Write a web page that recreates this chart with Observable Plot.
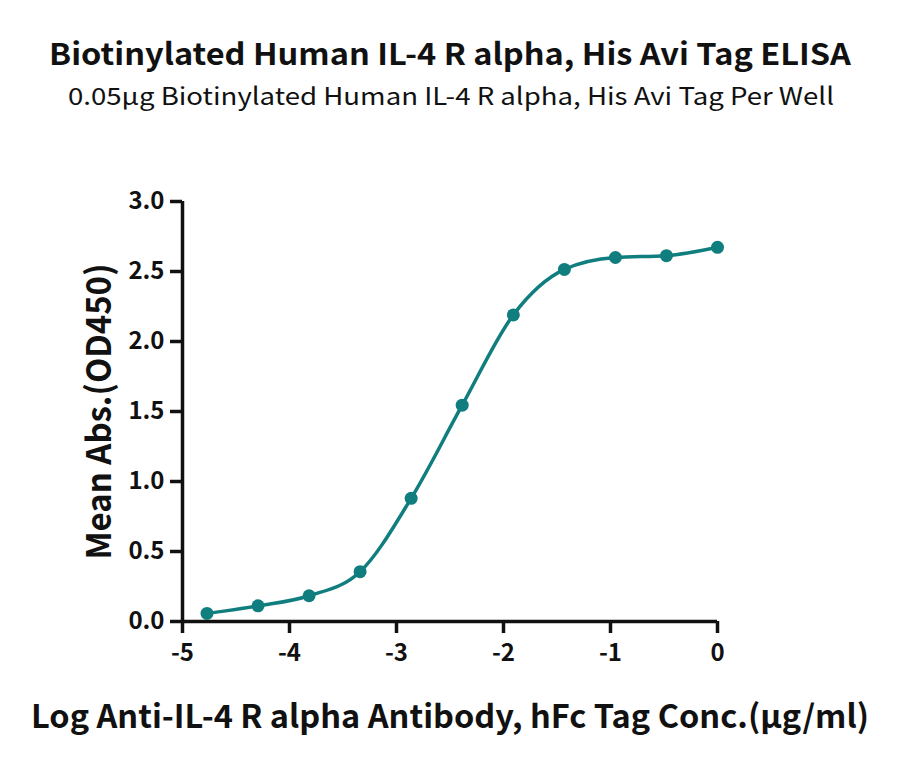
<!DOCTYPE html>
<html>
<head>
<meta charset="utf-8">
<script src="https://cdn.jsdelivr.net/npm/d3@7"></script>
<script src="https://cdn.jsdelivr.net/npm/@observablehq/plot@0.6"></script>
<style>
  body { margin: 0; background: #fff; font-family: "Noto Sans CJK SC", "Noto Sans", sans-serif; }
  #wrap { width: 900px; height: 760px; position: relative; }
  #head { position: absolute; left: 0; top: 0; }
  #chart { position: absolute; left: 0; top: 120px; }
</style>
</head>
<body>
<div id="wrap">
  <div id="head"></div>
  <div id="chart"></div>
</div>
<script>
const title = "Biotinylated Human IL-4 R alpha, His Avi Tag ELISA";
const subtitle = "0.05μg Biotinylated Human IL-4 R alpha, His Avi Tag Per Well";
const logConc = [-4.771, -4.294, -3.817, -3.340, -2.863, -2.386, -1.908, -1.431, -0.954, -0.477, 0];
const meanAbs = [0.058, 0.112, 0.184, 0.356, 0.880, 1.545, 2.190, 2.515, 2.600, 2.613, 2.673];
const xTicks = [-5, -4, -3, -2, -1, 0];
const yTicks = [0, 0.5, 1.0, 1.5, 2.0, 2.5, 3.0];
const xLabel = "Log Anti-IL-4 R alpha Antibody, hFc Tag Conc.(μg/ml)";
const yLabel = "Mean Abs.(OD450)";
const color = "#107d7e";
const font = '"Noto Sans CJK SC", "Noto Sans", sans-serif';

// Title block (above the chart)
const head = d3.select("#head").append("svg")
  .attr("width", 900).attr("height", 120)
  .style("font-family", font);
head.append("text").text(title)
  .attr("x", 450).attr("y", 65).attr("text-anchor", "middle")
  .attr("font-size", 30).attr("font-weight", 700).attr("fill", "#111")
  .attr("textLength", 802).attr("lengthAdjust", "spacingAndGlyphs");
head.append("text").text(subtitle)
  .attr("x", 451).attr("y", 105).attr("text-anchor", "middle")
  .attr("font-size", 24).attr("font-weight", 400).attr("fill", "#111")
  .attr("textLength", 766).attr("lengthAdjust", "spacingAndGlyphs");

const data = logConc.map((x, i) => ({x, y: meanAbs[i]}));

const plot = Plot.plot({
  width: 900,
  height: 640,
  marginTop: 81,
  marginLeft: 182,
  marginRight: 183,
  marginBottom: 139,
  style: {fontFamily: font, color: "#111", background: "#fff"},
  x: {domain: [-5, 0]},
  y: {domain: [0, 3]},
  marks: [
    Plot.axisX({ticks: xTicks, tickSize: 12, strokeWidth: 3.5, tickPadding: 10, fontSize: 24, fontWeight: 700, tickFormat: d => String(d), label: null}),
    Plot.axisY({ticks: yTicks, tickSize: 12, strokeWidth: 3.5, tickPadding: 6, fontSize: 24, fontWeight: 700, tickFormat: d => d.toFixed(1), label: null}),
    Plot.ruleX([-5], {y1: 0, y2: 3, strokeWidth: 3.5, stroke: "#111"}),
    Plot.ruleY([0], {x1: -5, x2: 0, strokeWidth: 3.5, stroke: "#111"}),
    Plot.line(data, {x: "x", y: "y", curve: "monotone-x", stroke: color, strokeWidth: 3.5}),
    Plot.dot(data, {x: "x", y: "y", r: 6.5, fill: color, stroke: "none"}),
    Plot.text([xLabel], {frameAnchor: "bottom", lineAnchor: "middle", dy: 96, fontSize: 32, fontWeight: 700, text: d => d, className: "xlab"}),
    Plot.text([yLabel], {frameAnchor: "left", textAnchor: "middle", lineAnchor: "middle", dx: -82, rotate: -90, fontSize: 34, fontWeight: 700, text: d => d, className: "ylab"})
  ]
});
document.getElementById("chart").appendChild(plot);
const xl = plot.querySelector(".xlab text");
if (xl) { xl.setAttribute("textLength", 838); xl.setAttribute("lengthAdjust", "spacingAndGlyphs"); }
const yl = plot.querySelector(".ylab text");
if (yl) { yl.setAttribute("textLength", 296); yl.setAttribute("lengthAdjust", "spacingAndGlyphs"); }
</script>
</body>
</html>
